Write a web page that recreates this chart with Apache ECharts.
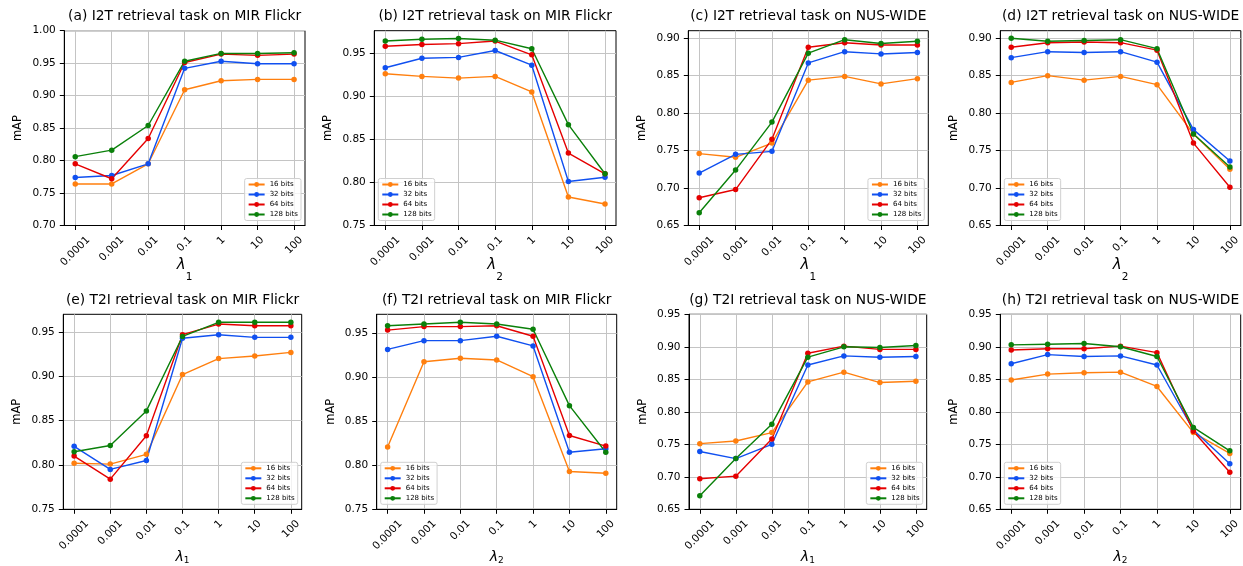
<!DOCTYPE html>
<html>
<head>
<meta charset="utf-8">
<script src="https://cdn.jsdelivr.net/npm/echarts@6/dist/echarts.min.js"></script>
<style>
html, body { margin: 0; padding: 0; background: #fff; }
#main { width: 1243px; height: 566px; }
</style>
</head>
<body>
<div id="main"></div>
<script>
var lambdas = ['0.0001', '0.001', '0.01', '0.1', '1', '10', '100'];
var bitNames = ['16 bits', '32 bits', '64 bits', '128 bits'];

// (a) I2T on MIR Flickr, lambda 1
var a16 = [0.764, 0.764, 0.795, 0.909, 0.923, 0.925, 0.925];
var a32 = [0.774, 0.777, 0.795, 0.942, 0.953, 0.949, 0.949];
var a64 = [0.795, 0.772, 0.834, 0.951, 0.964, 0.962, 0.964];
var a128 = [0.806, 0.816, 0.854, 0.953, 0.965, 0.965, 0.966];
// (b) I2T on MIR Flickr, lambda 2
var b16 = [0.926, 0.923, 0.921, 0.923, 0.905, 0.783, 0.775];
var b32 = [0.933, 0.944, 0.945, 0.953, 0.936, 0.801, 0.806];
var b64 = [0.958, 0.960, 0.961, 0.964, 0.948, 0.834, 0.810];
var b128 = [0.964, 0.966, 0.967, 0.965, 0.955, 0.867, 0.810];
// (c) I2T on NUS-WIDE, lambda 1
var c16 = [0.746, 0.741, 0.760, 0.844, 0.849, 0.839, 0.846];
var c32 = [0.720, 0.745, 0.749, 0.867, 0.882, 0.879, 0.881];
var c64 = [0.687, 0.698, 0.765, 0.888, 0.894, 0.891, 0.891];
var c128 = [0.667, 0.724, 0.788, 0.880, 0.898, 0.893, 0.896];
// (d) I2T on NUS-WIDE, lambda 2
var d16 = [0.841, 0.850, 0.844, 0.849, 0.838, 0.772, 0.725];
var d32 = [0.874, 0.882, 0.881, 0.882, 0.868, 0.778, 0.736];
var d64 = [0.888, 0.894, 0.895, 0.894, 0.884, 0.760, 0.701];
var d128 = [0.900, 0.896, 0.897, 0.898, 0.886, 0.772, 0.728];
// (e) T2I on MIR Flickr, lambda 1
var e16 = [0.802, 0.801, 0.812, 0.902, 0.920, 0.923, 0.927];
var e32 = [0.821, 0.795, 0.805, 0.943, 0.947, 0.944, 0.944];
var e64 = [0.810, 0.784, 0.833, 0.947, 0.959, 0.957, 0.957];
var e128 = [0.815, 0.822, 0.861, 0.945, 0.961, 0.961, 0.961];
// (f) T2I on MIR Flickr, lambda 2
var f16 = [0.821, 0.918, 0.922, 0.920, 0.901, 0.793, 0.791];
var f32 = [0.932, 0.942, 0.942, 0.947, 0.936, 0.815, 0.819];
var f64 = [0.954, 0.958, 0.958, 0.959, 0.947, 0.834, 0.822];
var f128 = [0.959, 0.961, 0.963, 0.961, 0.955, 0.868, 0.815];
// (g) T2I on NUS-WIDE, lambda 1
var g16 = [0.751, 0.755, 0.768, 0.846, 0.861, 0.845, 0.847];
var g32 = [0.739, 0.728, 0.750, 0.872, 0.886, 0.884, 0.885];
var g64 = [0.697, 0.701, 0.758, 0.890, 0.901, 0.896, 0.896];
var g128 = [0.671, 0.728, 0.781, 0.884, 0.900, 0.899, 0.902];
// (h) T2I on NUS-WIDE, lambda 2
var h16 = [0.849, 0.858, 0.860, 0.861, 0.839, 0.768, 0.736];
var h32 = [0.874, 0.888, 0.885, 0.886, 0.872, 0.772, 0.720];
var h64 = [0.895, 0.897, 0.897, 0.901, 0.891, 0.770, 0.707];
var h128 = [0.903, 0.904, 0.905, 0.900, 0.885, 0.776, 0.740];

var panelTitles = [
  '(a) I2T retrieval task on MIR Flickr', '(b) I2T retrieval task on MIR Flickr',
  '(c) I2T retrieval task on NUS-WIDE', '(d) I2T retrieval task on NUS-WIDE',
  '(e) T2I retrieval task on MIR Flickr', '(f) T2I retrieval task on MIR Flickr',
  '(g) T2I retrieval task on NUS-WIDE', '(h) T2I retrieval task on NUS-WIDE'
];
var panelSub = ['1', '2', '1', '2', '1', '2', '1', '2'];
var panelYMin = [0.70, 0.75, 0.65, 0.65, 0.75, 0.75, 0.65, 0.65];
var panelYMax = [1.00, 0.976, 0.910, 0.910, 0.970, 0.972, 0.95, 0.95];
var panelData = [
  [a16, a32, a64, a128], [b16, b32, b64, b128], [c16, c32, c64, c128], [d16, d32, d64, d128],
  [e16, e32, e64, e128], [f16, f32, f64, f128], [g16, g32, g64, g128], [h16, h32, h64, h128]
];

var colors = ['#ff7f0e', '#1050f0', '#e50000', '#0a800a'];
var font = 'DejaVu Sans';
var W = 1243, H = 566;
// plot boxes: left, top, width, height
var boxes = [
  [64.3, 30.7, 240.7, 194.8], [374.3, 30.7, 241.7, 194.8], [688.3, 30.7, 240, 194.8], [1000.3, 30.7, 240.7, 194.8],
  [63.3, 314.3, 238.4, 195], [376.7, 314.3, 240, 195], [689, 314.3, 237.7, 195], [1000.3, 314.3, 240.4, 195]
];
var legendRight = [true, false, true, false, true, false, true, false];

// matplotlib centres rotated tick labels; push each one down by its own size
var tickFont = 10.5;
var ctx = document.createElement('canvas').getContext('2d');
ctx.font = tickFont + 'px "' + font + '"';
var xRich = {};
lambdas.forEach(function(t, i) {
  var p = (ctx.measureText(t).width + tickFont * 1.15) / 2;
  xRich['p' + i] = { padding: [p, p, 0, 0], fontSize: tickFont, fontFamily: font, color: '#000' };
});
var xTicks = lambdas.map(function(t, i) { return i; });

var option = { animation: false, backgroundColor: '#fff', title: [], grid: [], xAxis: [], yAxis: [], legend: [], series: [] };

for (var k = 0; k < 8; k++) {
  var b = boxes[k];
  var row1 = k < 4;
  var yTicks = [];
  for (var v = panelYMin[k]; v <= panelYMax[k] + 1e-9; v += 0.05) yTicks.push(Math.round(v * 100) / 100);

  option.title.push({
    text: panelTitles[k],
    left: b[0] + b[2] / 2,
    top: b[1] - 21,
    textAlign: 'center',
    padding: 0,
    textStyle: { fontSize: 13.8, fontWeight: 'normal', fontFamily: font, color: '#000' }
  });
  option.grid.push({
    left: b[0], top: b[1], width: b[2], height: b[3],
    show: true, borderColor: '#000', borderWidth: 1, backgroundColor: 'transparent'
  });
  option.xAxis.push({
    type: 'value', gridIndex: k, min: -0.3, max: 6.3, splitNumber: 7,
    name: '{l|λ}{s|' + panelSub[k] + '}',
    nameLocation: 'middle',
    nameMoveOverlap: false,
    nameGap: row1 ? 32.5 : 41.5,
    nameTextStyle: {
      rich: {
        l: { fontSize: row1 ? 15 : 14, fontStyle: 'italic', fontFamily: font, color: '#000', verticalAlign: 'top' },
        s: { fontSize: row1 ? 10.5 : 9, fontFamily: font, color: '#000', verticalAlign: 'top', padding: [row1 ? 14 : 5, 0, 0, 0] }
      }
    },
    axisLine: { show: true, onZero: false, lineStyle: { color: '#000', width: 1 } },
    axisTick: { show: true, length: 4.5, customValues: xTicks, lineStyle: { color: '#000', width: 1 } },
    axisLabel: {
      customValues: xTicks,
      rotate: 45, align: 'center', verticalAlign: 'middle', margin: 8.5,
      formatter: function(val) {
        var i = Math.round(val);
        if (Math.abs(val - i) > 1e-6 || !lambdas[i]) return '';
        return '{p' + i + '|' + lambdas[i] + '}';
      },
      rich: xRich
    },
    splitLine: { show: true, lineStyle: { color: '#c4c4c4', width: 1 } }
  });
  option.yAxis.push({
    type: 'value', gridIndex: k, min: panelYMin[k], max: panelYMax[k], interval: 0.05,
    name: 'mAP', nameLocation: 'middle', nameGap: 40, nameMoveOverlap: false,
    nameTextStyle: { fontSize: 11.5, fontFamily: font, color: '#000' },
    axisLine: { show: true, onZero: false, lineStyle: { color: '#000', width: 1 } },
    axisTick: { show: true, length: 4.5, customValues: yTicks, lineStyle: { color: '#000', width: 1 } },
    axisLabel: {
      customValues: yTicks, margin: 8.5, fontSize: tickFont, fontFamily: font, color: '#000',
      formatter: function(val) { return val.toFixed(2); }
    },
    splitLine: { show: true, lineStyle: { color: '#c4c4c4', width: 1 } }
  });

  var lg = {
    data: bitNames, orient: 'vertical', selectedMode: false,
    bottom: H - (b[1] + b[3] - 5),
    itemWidth: 16, itemHeight: 6, itemGap: 2, padding: [2, 3, 2, 3],
    textStyle: { fontSize: 7, lineHeight: 8, fontFamily: font, color: '#000' },
    borderColor: '#d0d0d0', borderWidth: 1, borderRadius: 2, backgroundColor: 'rgba(255,255,255,0.8)'
  };
  if (legendRight[k]) lg.right = W - (b[0] + b[2] - 4);
  else lg.left = b[0] + 4;
  option.legend.push(lg);

  for (var s = 0; s < 4; s++) {
    var vals = panelData[k][s];
    option.series.push({
      type: 'line', name: bitNames[s], xAxisIndex: k, yAxisIndex: k,
      data: vals.map(function(y, i) { return [i, y]; }),
      symbol: 'circle', symbolSize: 5.5,
      color: colors[s],
      lineStyle: { width: 1.4, color: colors[s] },
      itemStyle: { color: colors[s] }
    });
  }
}

var chart = echarts.init(document.getElementById('main'));
chart.setOption(option);
</script>
</body>
</html>
